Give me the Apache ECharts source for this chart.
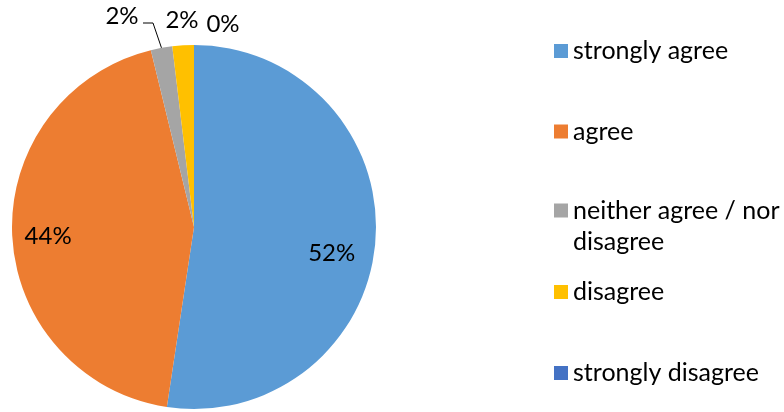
<!DOCTYPE html>
<html>
<head>
<meta charset="utf-8">
<script src="https://cdn.jsdelivr.net/npm/echarts@6/dist/echarts.min.js"></script>
<style>
  html, body { margin: 0; padding: 0; background: #fff; }
  #chart { width: 784px; height: 412px; }
</style>
</head>
<body>
<div id="chart"></div>
<script>
var categories = ['strongly agree', 'agree', 'neither agree / nor disagree', 'disagree', 'strongly disagree'];
var counts = [55, 46, 2, 2, 0];
var colors = ['#5B9BD5', '#ED7D31', '#A5A5A5', '#FFC000', '#4472C4'];

var FONT = 'Lato';
var chart = echarts.init(document.getElementById('chart'));

// one legend per item so each row sits where the original has it
var legendTops = [38.5, 119, 164, 279.5, 360.5];
var legends = categories.map(function (name, i) {
  var multi = name.indexOf('nor disagree') >= 0;
  return {
    data: [name],
    left: 554,
    top: legendTops[i],
    padding: 0,
    icon: 'rect',
    itemWidth: 14,
    itemHeight: 14,
    selectedMode: false,
    // leading empty line keeps the first text line level with the square
    formatter: function (n) { return multi ? '\nneither agree / nor\ndisagree' : n; },
    textStyle: {
      fontFamily: FONT,
      fontSize: 25,
      color: '#000',
      lineHeight: multi ? 31 : 14
    }
  };
});

var option = {
  animation: false,
  color: colors,
  legend: legends,
  series: [{
    type: 'pie',
    center: [194, 227],
    radius: 182,
    startAngle: 90,
    clockwise: true,
    avoidLabelOverlap: false,
    itemStyle: { borderWidth: 0 },
    label: {
      show: true,
      position: 'inside',
      fontFamily: FONT,
      fontSize: 24,
      color: '#000',
      formatter: function (p) { return Math.round(p.percent) + '%'; }
    },
    labelLine: { show: false },
    data: categories.map(function (name, i) {
      var item = { name: name, value: counts[i] };
      if (i >= 2) {
        item.label = { position: 'outside' };
        item.labelLine = { show: i === 2, lineStyle: { color: '#000', width: 1 } };
      }
      return item;
    }),
    labelLayout: function (p) {
      var i = p.dataIndex;
      if (i === 0) return { dx: 44, dy: 19 };
      if (i === 1) return { dx: -52, dy: 5 };
      if (i === 2) {
        var start = p.labelLinePoints ? p.labelLinePoints[0] : [161, 48];
        return {
          x: 122, y: 16, align: 'center', verticalAlign: 'middle',
          labelLinePoints: [start, [153, 23], [143, 23]]
        };
      }
      if (i === 3) return { x: 182, y: 20, align: 'center', verticalAlign: 'middle' };
      return { x: 223, y: 24, align: 'center', verticalAlign: 'middle' };
    }
  }]
};

chart.setOption(option);
</script>
</body>
</html>
